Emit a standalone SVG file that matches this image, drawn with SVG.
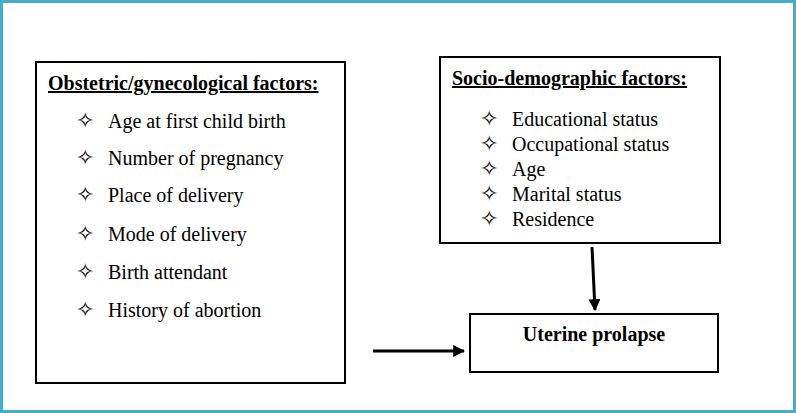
<svg xmlns="http://www.w3.org/2000/svg" width="796" height="413" viewBox="0 0 796 413">
<style>
text{font-family:"Liberation Serif","Times New Roman",serif;font-size:20px;fill:#000}
.b{font-weight:bold;text-decoration:underline}
.s{font-family:"DejaVu Sans",sans-serif;font-size:22px}
.box{fill:#fff;stroke:#000;stroke-width:2}
</style>
<defs><marker id="a" viewBox="0 0 10 10" refX="9" refY="5" markerWidth="4" markerHeight="4" orient="auto"><path d="M0,0L10,5L0,10z" fill="#000"/></marker></defs>
<rect x="1.5" y="1.5" width="793" height="410" fill="#fff" stroke="#4bacc6" stroke-width="3"/>
<g id="obstetric">
<rect class="box" x="36" y="62" width="309" height="321"/>
<text class="b" x="48" y="90">Obstetric/gynecological factors:</text>
<text class="s" x="76" y="128">✧</text><text x="108" y="128">Age at first child birth</text>
<text class="s" x="76" y="165">✧</text><text x="108" y="165">Number of pregnancy</text>
<text class="s" x="76" y="202">✧</text><text x="108" y="202">Place of delivery</text>
<text class="s" x="76" y="241">✧</text><text x="108" y="241">Mode of delivery</text>
<text class="s" x="76" y="279">✧</text><text x="108" y="279">Birth attendant</text>
<text class="s" x="76" y="317">✧</text><text x="108" y="317">History of abortion</text>
</g>
<g id="socio">
<rect class="box" x="440" y="57" width="280" height="186"/>
<text class="b" x="452" y="85">Socio-demographic factors:</text>
<text class="s" x="480" y="126">✧</text><text x="512" y="126">Educational status</text>
<text class="s" x="480" y="151">✧</text><text x="512" y="151">Occupational status</text>
<text class="s" x="480" y="176">✧</text><text x="512" y="176">Age</text>
<text class="s" x="480" y="201">✧</text><text x="512" y="201">Marital status</text>
<text class="s" x="480" y="226">✧</text><text x="512" y="226">Residence</text>
</g>
<g id="prolapse">
<rect class="box" x="470" y="314" width="248" height="58"/>
<text x="594" y="341" text-anchor="middle" font-weight="bold">Uterine prolapse</text>
</g>
<g id="connectors" stroke="#000" stroke-width="3" fill="none">
<line x1="373" y1="351" x2="464" y2="351" marker-end="url(#a)"/>
<line x1="592" y1="247" x2="595" y2="310" marker-end="url(#a)"/>
</g>
</svg>
